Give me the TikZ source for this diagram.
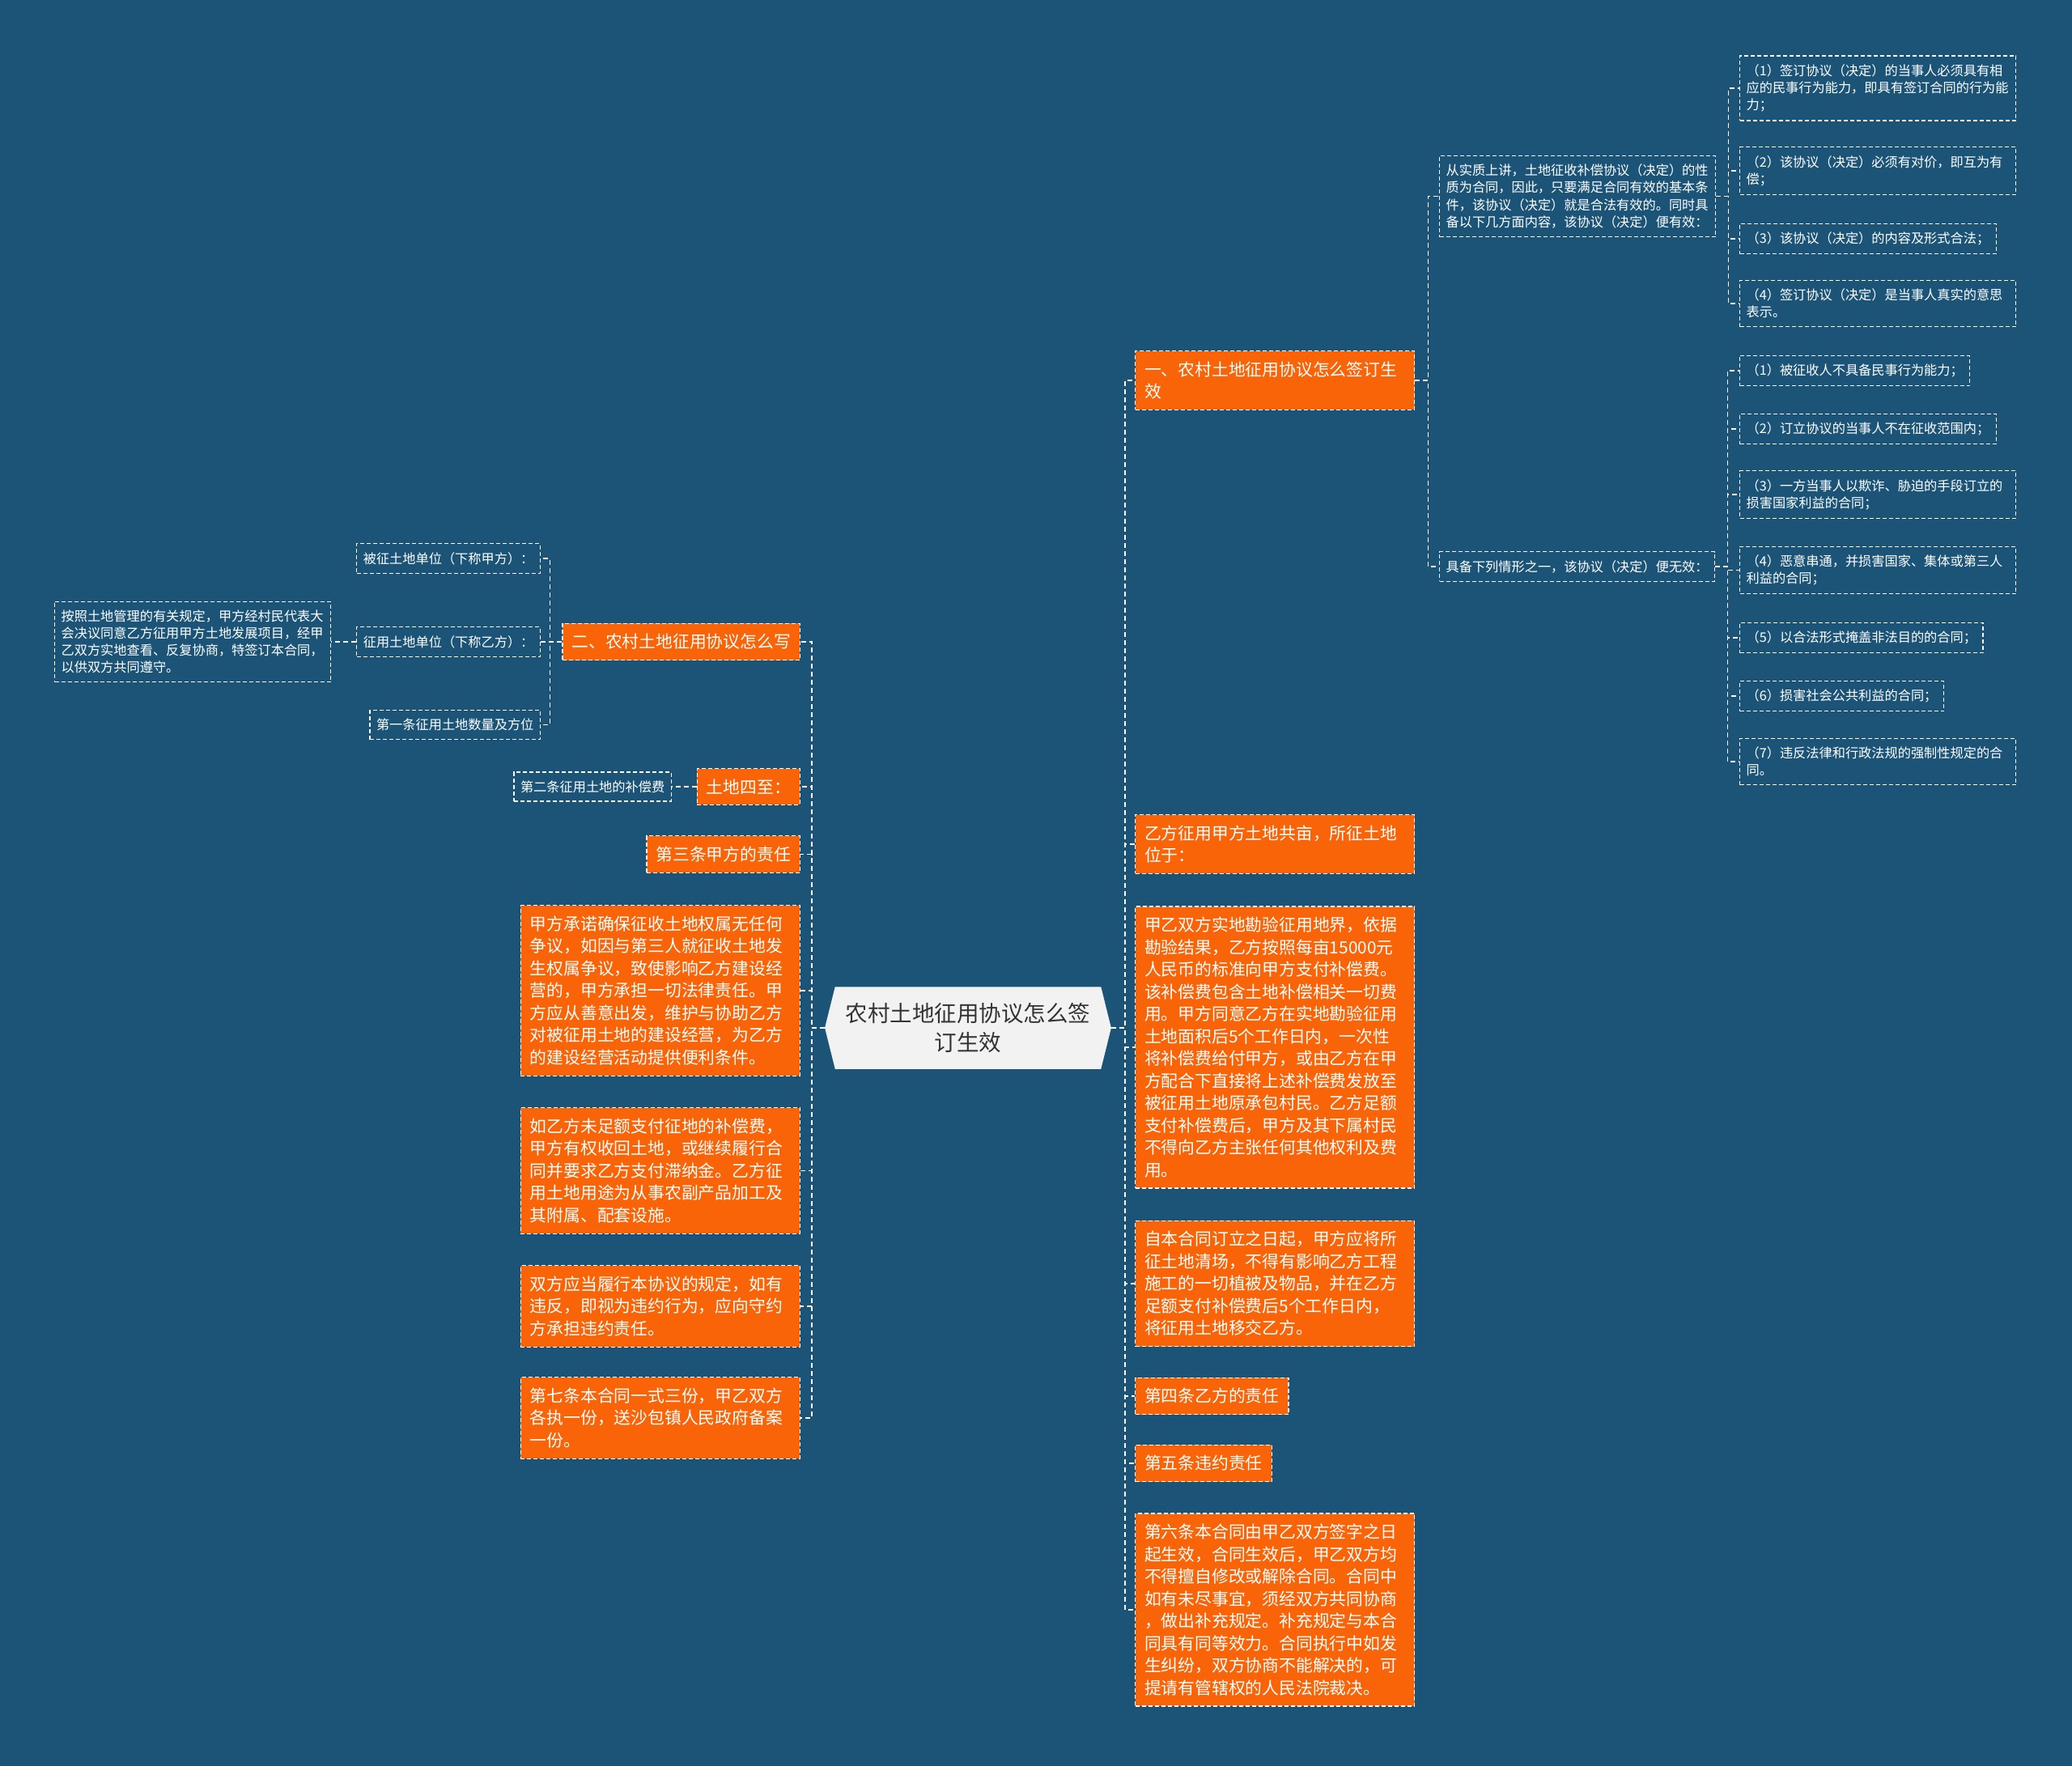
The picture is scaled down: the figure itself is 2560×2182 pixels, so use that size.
\documentclass[tikz,border=0pt]{standalone}
\usepackage{fontspec}
\newfontfamily\zh{Noto Sans CJK SC}
\usetikzlibrary{positioning, shapes.symbols}
\definecolor{mapbg}{RGB}{27,84,119}
\definecolor{maporange}{RGB}{250,100,8}
\definecolor{rootfill}{RGB}{242,242,242}
\definecolor{roottext}{RGB}{51,51,51}

\begin{document}
\begin{tikzpicture}[
  x=1pt, y=-1pt,
  root/.style={signal, signal to=east and west, signal pointer angle=152, fill=rootfill, text=roottext, align=center, inner xsep=13pt, inner ysep=20pt, font=\zh\fontsize{27.5pt}{36pt}\selectfont},
  topic/.style={draw=white, line width=1.2pt, dash pattern=on 5pt off 3pt, fill=maporange, text=white, align=left, inner xsep=11.5pt, inner ysep=13pt, font=\zh\fontsize{20.8pt}{27.5pt}\selectfont},
  topicwide/.style={topic, text width=322pt},
  leaf/.style={draw=white, line width=1.2pt, dash pattern=on 5pt off 3pt, text=white, align=left, inner xsep=8pt, inner ysep=10.5pt, font=\zh\fontsize{16.2pt}{21.2pt}\selectfont},
  leafwide/.style={leaf, text width=325pt},
  link/.style={draw=white, line width=1.4pt, dash pattern=on 6pt off 4pt}
]

% Background
\fill[mapbg] (0,0) rectangle (2560,2182);
\useasboundingbox (0,0) rectangle (2560,2182);

% Central topic
\node[root] (root) at (1196,1270) {农村土地征用协议怎么签\\订生效};

% Right branch
\node[topicwide, anchor=west] (r1) at (1402,470) {一、农村土地征用协议怎么签订生\\效};
\node[topicwide, anchor=west] (r2) at (1402,1043) {乙方征用甲方土地共亩，所征土地\\位于：};
\node[topicwide, anchor=west] (r3) at (1402,1294) {甲乙双方实地勘验征用地界，依据\\勘验结果，乙方按照每亩15000元\\人民币的标准向甲方支付补偿费。\\该补偿费包含土地补偿相关一切费\\用。甲方同意乙方在实地勘验征用\\土地面积后5个工作日内，一次性\\将补偿费给付甲方，或由乙方在甲\\方配合下直接将上述补偿费发放至\\被征用土地原承包村民。乙方足额\\支付补偿费后，甲方及其下属村民\\不得向乙方主张任何其他权利及费\\用。};
\node[topicwide, anchor=west] (r4) at (1402,1586) {自本合同订立之日起，甲方应将所\\征土地清场，不得有影响乙方工程\\施工的一切植被及物品，并在乙方\\足额支付补偿费后5个工作日内，\\将征用土地移交乙方。};
\node[topic, anchor=west] (r5) at (1402,1725) {第四条乙方的责任};
\node[topic, anchor=west] (r6) at (1402,1808) {第五条违约责任};
\node[topicwide, anchor=west] (r7) at (1402,1989) {第六条本合同由甲乙双方签字之日\\起生效，合同生效后，甲乙双方均\\不得擅自修改或解除合同。合同中\\如有未尽事宜，须经双方共同协商\\，做出补充规定。补充规定与本合\\同具有同等效力。合同执行中如发\\生纠纷，双方协商不能解决的，可\\提请有管辖权的人民法院裁决。};

% Details of the first right topic
\node[leafwide, anchor=west] (ra) at (1778,242.5) {从实质上讲，土地征收补偿协议（决定）的性\\质为合同，因此，只要满足合同有效的基本条\\件，该协议（决定）就是合法有效的。同时具\\备以下几方面内容，该协议（决定）便有效：};
\node[leaf, anchor=west] (rb) at (1778,700) {具备下列情形之一，该协议（决定）便无效：};

\node[leafwide, anchor=west] (ra1) at (2149,109) {（1）签订协议（决定）的当事人必须具有相\\应的民事行为能力，即具有签订合同的行为能\\力；};
\node[leafwide, anchor=west] (ra2) at (2149,211) {（2）该协议（决定）必须有对价，即互为有\\偿；};
\node[leaf, anchor=west] (ra3) at (2149,295) {（3）该协议（决定）的内容及形式合法；};
\node[leafwide, anchor=west] (ra4) at (2149,375) {（4）签订协议（决定）是当事人真实的意思\\表示。};

\node[leaf, anchor=west] (rb1) at (2149,458) {（1）被征收人不具备民事行为能力；};
\node[leaf, anchor=west] (rb2) at (2149,530) {（2）订立协议的当事人不在征收范围内；};
\node[leafwide, anchor=west] (rb3) at (2149,611) {（3）一方当事人以欺诈、胁迫的手段订立的\\损害国家利益的合同；};
\node[leafwide, anchor=west] (rb4) at (2149,704.5) {（4）恶意串通，并损害国家、集体或第三人\\利益的合同；};
\node[leaf, anchor=west] (rb5) at (2149,788) {（5）以合法形式掩盖非法目的的合同；};
\node[leaf, anchor=west] (rb6) at (2149,860) {（6）损害社会公共利益的合同；};
\node[leafwide, anchor=west] (rb7) at (2149,941) {（7）违反法律和行政法规的强制性规定的合\\同。};

% Left branch
\node[topic, anchor=east] (l1) at (989,793) {二、农村土地征用协议怎么写};
\node[topic, anchor=east] (l2) at (989,972) {土地四至：};
\node[topic, anchor=east] (l3) at (989,1055.5) {第三条甲方的责任};
\node[topicwide, anchor=east] (l4) at (989,1224) {甲方承诺确保征收土地权属无任何\\争议，如因与第三人就征收土地发\\生权属争议，致使影响乙方建设经\\营的，甲方承担一切法律责任。甲\\方应从善意出发，维护与协助乙方\\对被征用土地的建设经营，为乙方\\的建设经营活动提供便利条件。};
\node[topicwide, anchor=east] (l5) at (989,1446.5) {如乙方未足额支付征地的补偿费，\\甲方有权收回土地，或继续履行合\\同并要求乙方支付滞纳金。乙方征\\用土地用途为从事农副产品加工及\\其附属、配套设施。};
\node[topicwide, anchor=east] (l6) at (989,1614) {双方应当履行本协议的规定，如有\\违反，即视为违约行为，应向守约\\方承担违约责任。};
\node[topicwide, anchor=east] (l7) at (989,1752) {第七条本合同一式三份，甲乙双方\\各执一份，送沙包镇人民政府备案\\一份。};

% Details of the left topics
\node[leaf, anchor=east] (la) at (668,690) {被征土地单位（下称甲方）：};
\node[leaf, anchor=east] (lb) at (668,793) {征用土地单位（下称乙方）：};
\node[leaf, anchor=east] (lc) at (668,895.5) {第一条征用土地数量及方位};
\node[leafwide, left=31pt of lb] (ld) {按照土地管理的有关规定，甲方经村民代表大\\会决议同意乙方征用甲方土地发展项目，经甲\\乙双方实地查看、反复协商，特签订本合同，\\以供双方共同遵守。};
\node[leaf, left=31pt of l2] (le) {第二条征用土地的补偿费};

% Connectors
\foreach \c in {r1,r2,r3,r4,r5,r6,r7}
  \draw[link] (root.east) -- ++(17,0) |- (\c.west);
\foreach \c in {l1,l2,l3,l4,l5,l6,l7}
  \draw[link] (root.west) -- ++(-16,0) |- (\c.east);
\foreach \c in {ra,rb}
  \draw[link] (r1.east) -- ++(16,0) |- (\c.west);
\foreach \c in {ra1,ra2,ra3,ra4}
  \draw[link] (ra.east) -- ++(15,0) |- (\c.west);
\foreach \c in {rb1,rb2,rb3,rb4,rb5,rb6,rb7}
  \draw[link] (rb.east) -- ++(15,0) |- (\c.west);
\foreach \c in {la,lb,lc}
  \draw[link] (l1.west) -- ++(-15,0) |- (\c.east);
\draw[link] (lb.west) -- (ld.east);
\draw[link] (l2.west) -- (le.east);

\end{tikzpicture}
\end{document}
